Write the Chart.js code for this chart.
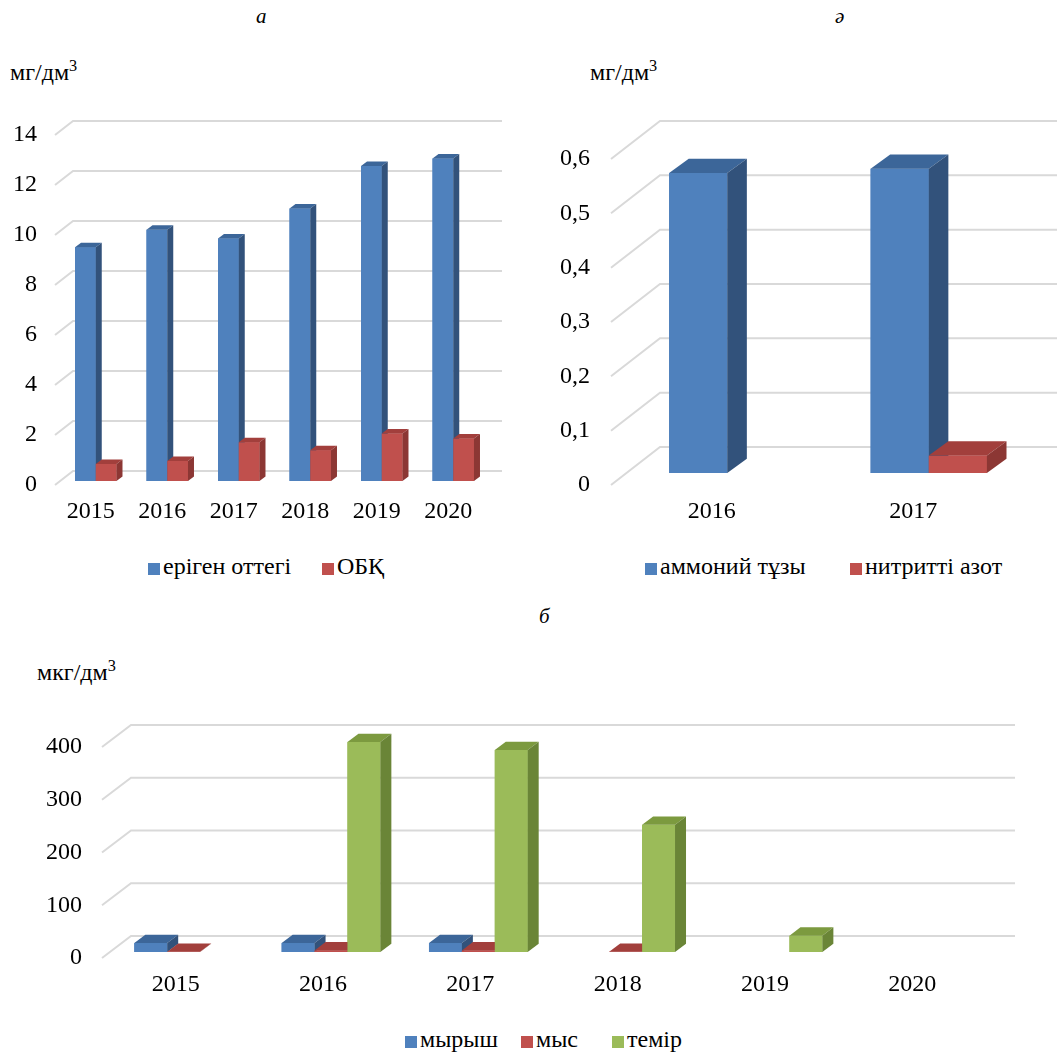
<!DOCTYPE html>
<html>
<head>
<meta charset="utf-8">
<style>
    body { margin: 0; background: #fff; width: 1057px; height: 1057px; position: relative; overflow: hidden; color: #000; }
    canvas { position: absolute; }
    .txt { position: absolute; font-family: 'Liberation Serif', serif; font-size: 24px; line-height: 1; white-space: nowrap; }
    .ttl { font-style: italic; font-size: 21px; }
    .txt sup { font-size: 0.68em; position: relative; top: -0.15em; vertical-align: top; }
    .sq { position: absolute; width: 12px; height: 12px; }
</style>
<script src="https://cdn.jsdelivr.net/npm/chart.js@4"></script>
</head>
<body>

<div class="txt ttl" style="left:256px; top:6px;">а</div>
<div class="txt ttl" style="left:835px; top:6px;">ә</div>
<div class="txt ttl" style="left:539px; top:606px;">б</div>

<div class="txt" style="left:10px; top:60px;">мг/дм<sup>3</sup></div>
<div class="txt" style="left:590px; top:60px;">мг/дм<sup>3</sup></div>
<div class="txt" style="left:37px; top:660px;">мкг/дм<sup>3</sup></div>

<canvas id="chart-a" width="520" height="460" style="left:0; top:90px;"></canvas>
<canvas id="chart-b" width="517" height="460" style="left:540px; top:90px;"></canvas>
<canvas id="chart-c" width="1057" height="320" style="left:0; top:690px;"></canvas>

<div id="legend-a"></div>
<div id="legend-b"></div>
<div id="legend-c"></div>

<script>
// chart а
const yearsA = ['2015', '2016', '2017', '2018', '2019', '2020'];
const oxygen = [9.35, 10.05, 9.7, 10.9, 12.6, 12.9];
const obk = [0.68, 0.8, 1.55, 1.23, 1.9, 1.7];
const ticksA = [0, 2, 4, 6, 8, 10, 12, 14];
const tickLabelsA = ['0', '2', '4', '6', '8', '10', '12', '14'];

// chart ә
const yearsB = ['2016', '2017'];
const ammonium = [0.552, 0.56];
const nitrite = [null, 0.032];
const ticksB = [0, 0.1, 0.2, 0.3, 0.4, 0.5, 0.6];
const tickLabelsB = ['0', '0,1', '0,2', '0,3', '0,4', '0,5', '0,6'];

// chart б
const yearsC = ['2015', '2016', '2017', '2018', '2019', '2020'];
const zinc = [17, 17, 17, null, null, null];
const copper = [0.5, 3, 3, 0.5, null, null];
const iron = [null, 398, 383, 241, 31, null];
const ticksC = [0, 100, 200, 300, 400];
const tickLabelsC = ['0', '100', '200', '300', '400'];

const COLORS = {
    blue:  { front: '#4F81BD', top: '#3C6699', side: '#32527B' },
    red:   { front: '#C0504D', top: '#A23F3C', side: '#8C3734' },
    green: { front: '#9BBB59', top: '#7C9A3F', side: '#6A8537' }
};

const FONT = "'Liberation Serif', serif";
Chart.defaults.font.family = FONT;

/**
 * Fake 3D columns: back-wall gridlines + top and side faces
 */
const bar3d = {
    id: 'bar3d',
    beforeDatasetsDraw(chart, args, opts) {
        const { ctx, chartArea: area } = chart;
        const y = chart.scales.y;
        const [fx, fy] = opts.floor;
        ctx.save();
        ctx.strokeStyle = '#d9d9d9';
        ctx.lineWidth = 2;
        y.ticks.forEach(t => {
            const py = y.getPixelForValue(t.value);
            ctx.beginPath();
            ctx.moveTo(area.left, py);
            ctx.lineTo(area.left + fx, py - fy);
            ctx.lineTo(area.right + fx, py - fy);
            ctx.stroke();
        });
        ctx.restore();
        ctx.save();
        ctx.translate(opts.shift[0], -opts.shift[1]);
    },
    afterDatasetsDraw(chart, args, opts) {
        const ctx = chart.ctx;
        const [dx, dy] = opts.depth;
        const poly = pts => {
            ctx.beginPath();
            pts.forEach(([px, py], i) => i ? ctx.lineTo(px, py) : ctx.moveTo(px, py));
            ctx.closePath();
            ctx.fill();
        };
        chart.data.datasets.forEach((ds, i) => {
            const meta = chart.getDatasetMeta(i);
            meta.data.forEach((el, j) => {
                if (ds.data[j] == null) return;
                const { x, y, base, width } = el.getProps(['x', 'y', 'base', 'width'], true);
                const l = x - width / 2, r = x + width / 2;
                ctx.fillStyle = ds.faces.front;
                ctx.fillRect(l, y, width, base - y);
                ctx.fillStyle = ds.faces.top;
                poly([[l, y], [r, y], [r + dx, y - dy], [l + dx, y - dy]]);
                ctx.fillStyle = ds.faces.side;
                poly([[r, y], [r + dx, y - dy], [r + dx, base - dy], [r, base]]);
            });
        });
        ctx.restore();
    }
};

function dataset(label, data, color) {
    return {
        label,
        data,
        backgroundColor: COLORS[color].front,
        faces: COLORS[color],
        borderWidth: 0,
        clip: false
    };
}

function makeChart(id, cfg) {
    return new Chart(document.getElementById(id), {
        type: 'bar',
        data: { labels: cfg.labels, datasets: cfg.datasets },
        plugins: [bar3d],
        options: {
            responsive: false,
            animation: false,
            layout: { padding: cfg.padding },
            categoryPercentage: cfg.catPct,
            barPercentage: 1,
            scales: {
                x: {
                    grid: { display: false, drawTicks: false },
                    border: { display: false },
                    ticks: { color: '#000', font: { family: FONT, size: 24 }, padding: 12, maxRotation: 0 },
                    afterFit(s) { s.height = 40; }
                },
                y: {
                    min: cfg.ticks[0],
                    max: cfg.ticks[cfg.ticks.length - 1],
                    grid: { display: false, drawTicks: false },
                    border: { display: false },
                    afterBuildTicks(s) { s.ticks = cfg.ticks.map(v => ({ value: v })); },
                    ticks: {
                        color: '#000',
                        font: { family: FONT, size: 24 },
                        padding: cfg.tickPad,
                        callback: (v, i) => cfg.tickLabels[i]
                    },
                    afterFit(s) { s.width = cfg.yWidth; }
                }
            },
            plugins: {
                legend: { display: false },
                tooltip: { enabled: false },
                bar3d: { floor: cfg.floor, shift: cfg.shift, depth: cfg.depth }
            }
        }
    });
}

function makeLegend(id, items) {
    const root = document.getElementById(id);
    root.innerHTML = items.map(it => `
        <div class="sq" style="left:${it.x}px; top:${it.y}px; background:${COLORS[it.color].front};"></div>
        <div class="txt" style="left:${it.x + 15}px; top:${it.y - 9}px;">${it.text}</div>
    `).join('');
}

makeChart('chart-a', {
    labels: yearsA,
    datasets: [dataset('еріген оттегі', oxygen, 'blue'), dataset('ОБҚ', obk, 'red')],
    ticks: ticksA, tickLabels: tickLabelsA,
    padding: { left: 0, top: 45, right: 36, bottom: 25 },
    yWidth: 55, tickPad: 18, catPct: 0.58,
    floor: [18, 14], shift: [5, 4], depth: [6, 4.5]
});

makeChart('chart-b', {
    labels: yearsB,
    datasets: [dataset('аммоний тұзы', ammonium, 'blue'), dataset('нитритті азот', nitrite, 'red')],
    ticks: ticksB, tickLabels: tickLabelsB,
    padding: { left: 0, top: 69, right: 43, bottom: 25 },
    yWidth: 71, tickPad: 21, catPct: 0.577,
    floor: [49, 38], shift: [15.5, 12], depth: [19.6, 14.3]
});

makeChart('chart-c', {
    labels: yearsC,
    datasets: [dataset('мырыш', zinc, 'blue'), dataset('мыс', copper, 'red'), dataset('темір', iron, 'green')],
    ticks: ticksC, tickLabels: tickLabelsC,
    padding: { left: 0, top: 57, right: 71, bottom: 12 },
    yWidth: 102, tickPad: 20, catPct: 0.67,
    floor: [29, 22], shift: [8, 6], depth: [11, 8.3]
});

makeLegend('legend-a', [
    { x: 148, y: 563, color: 'blue', text: 'еріген оттегі' },
    { x: 322, y: 563, color: 'red', text: 'ОБҚ' }
]);
makeLegend('legend-b', [
    { x: 645, y: 563, color: 'blue', text: 'аммоний тұзы' },
    { x: 850, y: 563, color: 'red', text: 'нитритті азот' }
]);
makeLegend('legend-c', [
    { x: 405, y: 1036, color: 'blue', text: 'мырыш' },
    { x: 521, y: 1036, color: 'red', text: 'мыс' },
    { x: 612, y: 1036, color: 'green', text: 'темір' }
]);
</script>
</body>
</html>
